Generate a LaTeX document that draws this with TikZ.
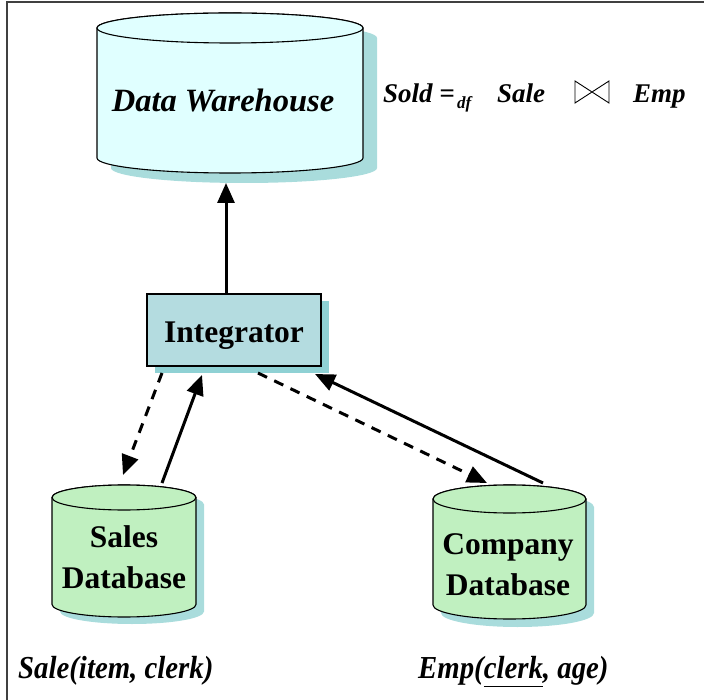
\documentclass[tikz,border=0pt]{standalone}
\usepackage{fontspec}
\setmainfont{Liberation Serif}
\usetikzlibrary{arrows.meta}
\definecolor{whcyan}{HTML}{E0FFFF}
\definecolor{drumshade}{HTML}{A9DCDC}
\definecolor{intfill}{HTML}{B4DCE0}
\definecolor{intshade}{HTML}{8FD1D4}
\definecolor{dbgreen}{HTML}{C0F0C0}
\newcommand{\drum}[7]{%
\fill[drumshade, shift={#7}] (#1-#3,#2) -- (#1-#3,#2+#5) arc[start angle=180, end angle=0, x radius=#3, y radius=#4] -- (#1+#3,#2) arc[start angle=0, end angle=-180, x radius=#3, y radius=#4] -- cycle;
\filldraw[fill=#6, line width=1.1pt] (#1-#3,#2) -- (#1-#3,#2+#5) arc[start angle=180, end angle=0, x radius=#3, y radius=#4] -- (#1+#3,#2) arc[start angle=0, end angle=-180, x radius=#3, y radius=#4] -- cycle;
\filldraw[fill=#6, line width=1.1pt] (#1,#2) ellipse[x radius=#3, y radius=#4];}
\newcommand{\joinsign}[4]{\draw[line width=0.9pt, line join=miter] (#1,#2) -- (#1,#4) -- (#3,#2) -- (#3,#4) -- cycle;}

\begin{document}
\begin{tikzpicture}[x=1pt,y=-1pt,
  flow/.style={line width=3pt, -{Triangle[length=20pt,width=17pt]}},
  query/.style={flow, dash pattern=on 10pt off 8pt},
  big/.style={font=\fontsize{31.5}{41}\selectfont\bfseries, inner sep=0pt},
  rel/.style={font=\fontsize{32}{32}\selectfont\bfseries\itshape, inner sep=0pt, anchor=base west}]
\useasboundingbox (0,0) rectangle (704,700);
\draw[black!75, line width=1.3pt] (704,2) -- (7,2) -- (7,700);
\drum{230}{28}{133}{15}{130}{whcyan}{(14,10)}
\drum{124}{497.5}{72}{12.5}{107}{dbgreen}{(8,7)}
\drum{509.5}{499}{76.5}{14}{106}{dbgreen}{(8,8)}
\node[big, font=\fontsize{32.5}{32.5}\selectfont\bfseries\itshape, anchor=base] (dw) at (223,112) {Data Warehouse};
\node[big, align=center] (salesdb) at (124,557) {Sales\\Database};
\node[big, align=center] (compdb) at (508,565) {Company\\Database};
\fill[intshade] (155,301) rectangle (329,373);
\node[big, draw, line width=1.3pt, fill=intfill, minimum width=174pt, minimum height=72pt, text height=36pt, text depth=10pt] (integ) at (234,330) {Integrator};
\node[rel, font=\fontsize{27}{27}\selectfont\bfseries\itshape] (sold) at (383,103) {Sold =};
\node[rel, font=\fontsize{17}{17}\selectfont\bfseries\itshape] (df) at (457,109) {df};
\node[rel, font=\fontsize{27}{27}\selectfont\bfseries\itshape] (sale) at (497,103) {Sale};
\joinsign{575}{81}{609}{103}
\node[rel, font=\fontsize{27}{27}\selectfont\bfseries\itshape] (emp) at (633,103) {Emp};
\node[rel] (salerel) at (18,678) {\scalebox{0.9}[1]{Sale(item, clerk)}};
\node[rel] (emprel) at (418,678) {\scalebox{0.9}[1]{Emp(\underline{\vphantom{g}clerk}, age)}};
\coordinate (dwfoot) at (226,183);
\coordinate (salesgo) at (162,373);
\coordinate (salesin) at (123,475);
\coordinate (salesout) at (162,483);
\coordinate (salesup) at (202,375);
\coordinate (compgo) at (258,373);
\coordinate (compin) at (487,483);
\coordinate (compout) at (543,483);
\coordinate (compup) at (315,374);
\draw[flow] (integ.north -| dwfoot) -- (dwfoot);
\draw[query] (salesgo) -- (salesin);
\draw[flow] (salesout) -- (salesup);
\draw[query] (compgo) -- (compin);
\draw[flow] (compout) -- (compup);
\end{tikzpicture}
\end{document}
